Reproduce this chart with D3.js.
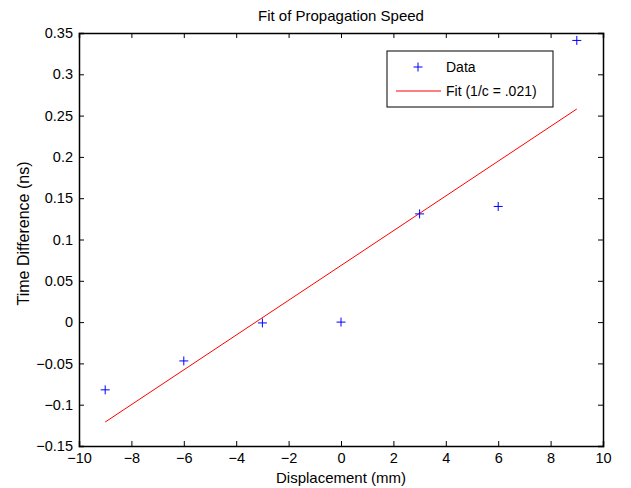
<!DOCTYPE html>
<html>
<head>
<meta charset="utf-8">
<script src="https://cdn.jsdelivr.net/npm/d3@7"></script>
<style>
  body { margin: 0; background: #fff; }
  text { font-family: "Liberation Sans", Arial, sans-serif; fill: #000; }
</style>
</head>
<body>
<svg id="chart" width="631" height="488"></svg>
<script>
// measured values
const displacement = [-9, -6, -3, 0, 3, 6, 9];
const timeDiff = [-0.082, -0.047, -0.001, 0, 0.131, 0.14, 0.341];
const fitX = [-9, 9];
const fitY = [-0.121, 0.258];
const xTicks = [-10, -8, -6, -4, -2, 0, 2, 4, 6, 8, 10];
const yTicks = [-0.15, -0.1, -0.05, 0, 0.05, 0.1, 0.15, 0.2, 0.25, 0.3, 0.35];

const svg = d3.select('#chart');
const m = { left: 79, top: 33, right: 603, bottom: 446 };

const x = d3.scaleLinear().domain([-10, 10]).range([m.left, m.right]);
const y = d3.scaleLinear().domain([-0.15, 0.35]).range([m.bottom, m.top]);

const fmt = d => {
    let s = String(+d.toFixed(2));
    return s.replace('-', '\u2212');
};

// axes with inward ticks
let g = svg.append('g');
g.append('g').attr('transform', `translate(0,${m.bottom})`)
    .call(d3.axisBottom(x).tickValues(xTicks).tickSize(-5).tickPadding(7).tickFormat(fmt));
g.append('g').attr('transform', `translate(0,${m.top})`)
    .call(d3.axisTop(x).tickValues(xTicks).tickSize(-5).tickFormat(''));
g.append('g').attr('transform', `translate(${m.left},0)`)
    .call(d3.axisLeft(y).tickValues(yTicks).tickSize(-5).tickPadding(6).tickFormat(fmt));
g.append('g').attr('transform', `translate(${m.right},0)`)
    .call(d3.axisRight(y).tickValues(yTicks).tickSize(-5).tickFormat(''));

g.selectAll('.domain').attr('stroke', '#000').attr('stroke-width', 1.5);
g.selectAll('.tick line').attr('stroke', '#000');
g.selectAll('.tick text').attr('font-size', 14.5).attr('fill', '#000')
    .attr('font-family', '"Liberation Sans", Arial, sans-serif');

// fit line
svg.append('path')
    .datum(d3.zip(fitX, fitY))
    .attr('d', d3.line().x(d => x(d[0])).y(d => y(d[1])))
    .attr('fill', 'none')
    .attr('stroke', '#ff0000')
    .attr('stroke-width', 1);

// data markers
svg.selectAll('.pt').data(d3.zip(displacement, timeDiff)).enter()
    .append('path')
    .attr('class', 'pt')
    .attr('transform', d => `translate(${x(d[0])},${y(d[1])})`)
    .attr('d', 'M-4.5,0H4.5M0,-4.5V4.5')
    .attr('stroke', '#0000ff')
    .attr('stroke-width', 1)
    .attr('fill', 'none');

// titles
svg.append('text').attr('x', (m.left + m.right) / 2).attr('y', 21)
    .attr('text-anchor', 'middle').attr('font-size', 15)
    .text('Fit of Propagation Speed');
svg.append('text').attr('x', (m.left + m.right) / 2).attr('y', 483)
    .attr('text-anchor', 'middle').attr('font-size', 15)
    .text('Displacement (mm)');
svg.append('text')
    .attr('transform', `translate(29,${(m.top + m.bottom) / 2 - 6}) rotate(-90)`)
    .attr('text-anchor', 'middle').attr('font-size', 16)
    .text('Time Difference (ns)');

// legend
let lg = svg.append('g').attr('transform', 'translate(387,51)');
lg.append('rect').attr('width', 166).attr('height', 56)
    .attr('fill', '#fff').attr('stroke', '#000').attr('stroke-width', 1);
lg.append('path').attr('d', 'M26.5,16H35.5M31,11.5V20.5')
    .attr('stroke', '#0000ff').attr('fill', 'none');
lg.append('text').attr('x', 59).attr('y', 21).attr('font-size', 14).text('Data');
lg.append('line').attr('x1', 9).attr('x2', 54).attr('y1', 40).attr('y2', 40)
    .attr('stroke', '#ff0000');
lg.append('text').attr('x', 59).attr('y', 45).attr('font-size', 14).text('Fit (1/c = .021)');
</script>
</body>
</html>
